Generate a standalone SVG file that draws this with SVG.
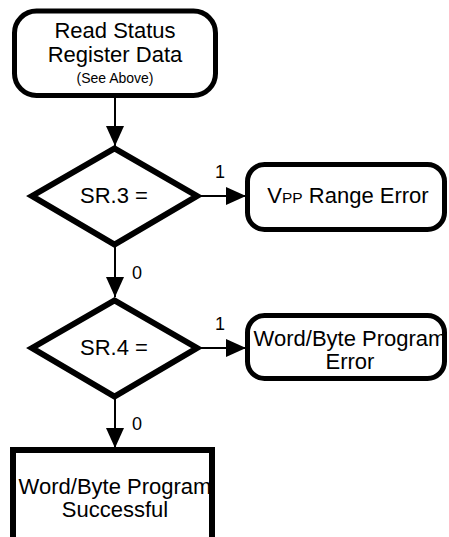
<svg xmlns="http://www.w3.org/2000/svg" width="449" height="537" viewBox="0 0 449 537">
<style>
.box{fill:#fff;stroke:#000;stroke-width:5}
.dia{fill:#fff;stroke:#000;stroke-width:6;stroke-linejoin:miter;stroke-miterlimit:10}
.sq{fill:#fff;stroke:#000;stroke-width:6}
.t{font-family:"Liberation Sans",Arial,sans-serif;font-size:22px;fill:#000;text-anchor:middle}
.s{font-size:14px}
.lbl{font-family:"Liberation Sans",Arial,sans-serif;font-size:18px;fill:#000;text-anchor:middle}
.c{stroke:#000;stroke-width:2;fill:none;marker-end:url(#ah)}
</style>
<defs>
<marker id="ah" markerUnits="userSpaceOnUse" markerWidth="20" markerHeight="18" refX="20" refY="9" orient="auto">
<path d="M0,0 L20,9 L0,18 z" fill="#000"/>
</marker>
</defs>
<rect width="449" height="537" fill="#fff"/>
<g id="connectors">
<line class="c" x1="115" y1="98" x2="115" y2="146"/>
<line class="c" x1="200" y1="196" x2="246" y2="196"/>
<line class="c" x1="115" y1="246" x2="115" y2="297"/>
<line class="c" x1="200" y1="348" x2="246" y2="348"/>
<line class="c" x1="115" y1="398" x2="115" y2="448"/>
<text class="lbl" x="220" y="178">1</text>
<text class="lbl" x="137" y="279">0</text>
<text class="lbl" x="220" y="330">1</text>
<text class="lbl" x="137" y="430">0</text>
</g>
<g id="read-status">
<rect class="box" x="14.5" y="11" width="201" height="84.5" rx="22"/>
<text class="t" x="115" y="38">Read Status</text>
<text class="t" x="115" y="62">Register Data</text>
<text class="t s" x="115" y="83">(See Above)</text>
</g>
<g id="sr3">
<polygon class="dia" points="32,196 114.5,148.5 197,196 114.5,244.5"/>
<text class="t" x="114" y="203">SR.3 =</text>
</g>
<g id="vpp-error">
<rect class="box" x="247.5" y="164.5" width="197" height="65" rx="17"/>
<text class="t" x="348" y="203">V<tspan font-size="15.5">PP</tspan> Range Error</text>
</g>
<g id="sr4">
<polygon class="dia" points="32,348 114.5,300.5 197,348 114.5,396.5"/>
<text class="t" x="114" y="355">SR.4 =</text>
</g>
<g id="program-error">
<rect class="box" x="247.5" y="315.5" width="197" height="63" rx="17"/>
<text class="t" x="350" y="346">Word/Byte Program</text>
<text class="t" x="350" y="369">Error</text>
</g>
<g id="success">
<rect class="sq" x="13" y="450" width="199" height="120"/>
<text class="t" x="115" y="494">Word/Byte Program</text>
<text class="t" x="115" y="517">Successful</text>
</g>
</svg>
